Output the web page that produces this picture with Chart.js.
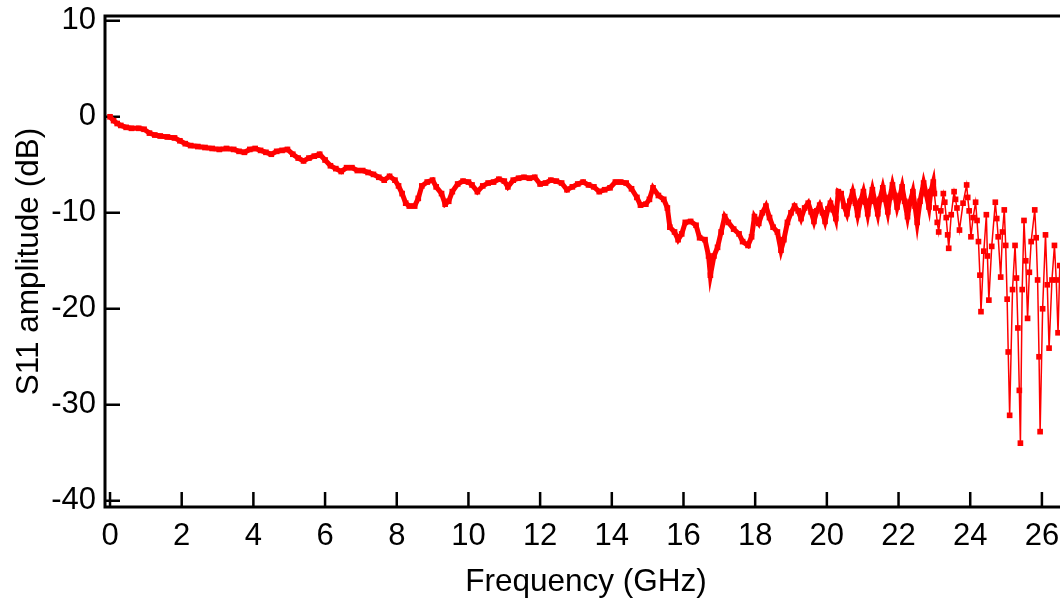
<!DOCTYPE html>
<html>
<head>
<meta charset="utf-8">
<script src="https://cdn.jsdelivr.net/npm/chart.js@4/dist/chart.umd.min.js"></script>
<style>
  html, body { margin: 0; padding: 0; background: #fff; overflow: hidden; }
  #wrap { width: 1080px; height: 601px; }
</style>
</head>
<body>
<div id="wrap"><canvas id="chart" width="1080" height="601"></canvas></div>
<script>
// S11 amplitude
const freqGHz = [
  0.00, 0.10, 0.20, 0.30, 0.45, 0.60, 0.80, 0.95, 1.10, 1.25, 1.40, 1.60, 1.80, 1.95,
  2.10, 2.25, 2.45, 2.65, 2.85, 3.05, 3.25, 3.45, 3.60, 3.75, 3.90, 4.05, 4.20, 4.35,
  4.50, 4.65, 4.80, 4.95, 5.10, 5.25, 5.40, 5.55, 5.70, 5.85, 6.00, 6.15, 6.30, 6.45,
  6.60, 6.75, 6.90, 7.05, 7.20, 7.35, 7.50, 7.65, 7.80, 7.95, 8.05, 8.15, 8.25, 8.35,
  8.50, 8.60, 8.70, 8.85, 9.00, 9.10, 9.25, 9.35, 9.45, 9.55, 9.70, 9.85, 10.00, 10.10,
  10.25, 10.40, 10.55, 10.70, 10.85, 11.00, 11.10, 11.25, 11.40, 11.55, 11.70, 11.85,
  12.00, 12.15, 12.30, 12.45, 12.60, 12.75, 12.90, 13.05, 13.20, 13.35, 13.50, 13.65,
  13.80, 13.95, 14.10, 14.25, 14.40, 14.55, 14.70, 14.80, 14.95, 15.05, 15.15, 15.30,
  15.45, 15.55, 15.62, 15.75, 15.85, 15.95, 16.05, 16.20, 16.35, 16.45, 16.60, 16.70,
  16.75, 16.85, 16.95, 17.05, 17.15, 17.25, 17.40, 17.55, 17.65, 17.80, 17.90, 17.98,
  18.10, 18.20, 18.30, 18.40, 18.50, 18.62, 18.72, 18.80, 18.90, 19.00, 19.10, 19.20,
  19.28, 19.38, 19.48, 19.56, 19.64, 19.72, 19.80, 19.88, 19.95, 20.03, 20.10, 20.18,
  20.25, 20.32, 20.40, 20.48, 20.56, 20.64, 20.72, 20.80, 20.86, 20.94, 21.02, 21.08,
  21.14, 21.20, 21.27, 21.34, 21.42, 21.48, 21.56, 21.63, 21.70, 21.76, 21.83, 21.90,
  21.96, 22.03, 22.10, 22.17, 22.25, 22.32, 22.40, 22.46, 22.52, 22.60, 22.70, 22.77,
  22.85, 22.90, 22.97, 23.00, 23.04, 23.08, 23.12, 23.18, 23.25, 23.29, 23.33, 23.37,
  23.40, 23.47, 23.55, 23.59, 23.63, 23.70, 23.80, 23.90, 23.93, 23.97, 24.02, 24.08,
  24.15, 24.19, 24.23, 24.27, 24.30, 24.38, 24.45, 24.48, 24.52, 24.60, 24.70, 24.74,
  24.78, 24.85, 24.90, 24.95, 24.99, 25.03, 25.06, 25.10, 25.18, 25.25, 25.29, 25.33,
  25.37, 25.40, 25.45, 25.50, 25.55, 25.60, 25.65, 25.70, 25.80, 25.84, 25.88, 25.92,
  25.95, 26.02, 26.10, 26.15, 26.20, 26.28, 26.35, 26.40, 26.45, 26.50
];
const s11dB = [
  0.0, -0.4, -0.7, -0.9, -1.1, -1.2, -1.2, -1.3, -1.7, -1.9, -2.0, -2.1, -2.2, -2.5,
  -2.8, -3.0, -3.1, -3.2, -3.3, -3.4, -3.3, -3.4, -3.6, -3.7, -3.4, -3.3, -3.5, -3.7,
  -3.9, -3.6, -3.5, -3.4, -3.9, -4.3, -4.6, -4.3, -4.1, -3.9, -4.5, -5.1, -5.4, -5.7,
  -5.3, -5.3, -5.6, -5.6, -5.8, -6.0, -6.3, -6.6, -6.2, -6.6, -7.2, -8.0, -9.0, -9.3,
  -9.3, -8.5, -7.2, -6.8, -6.6, -7.3, -8.0, -9.1, -8.8, -7.8, -7.0, -6.7, -6.8, -7.1,
  -7.8, -7.2, -6.9, -6.8, -6.5, -6.7, -7.3, -6.6, -6.4, -6.3, -6.4, -6.3,
  -7.0, -6.9, -6.6, -6.7, -6.9, -7.6, -7.3, -7.0, -6.8, -7.1, -7.3, -7.8,
  -7.6, -7.4, -6.8, -6.8, -6.9, -7.5, -8.4, -9.2, -9.1, -8.6, -7.4, -8.2,
  -8.6, -9.5, -11.5, -12.0, -12.8, -12.2, -11.0, -10.9, -11.3, -12.6, -12.8, -14.5,
  -16.5, -14.5, -13.6, -12.0, -10.4, -11.0, -11.7, -12.2, -13.0, -13.4, -12.5, -10.4,
  -11.1, -10.0, -9.3, -10.5, -11.5, -12.0, -13.9, -12.8, -11.0, -10.0, -9.3, -9.8,
  -10.6, -9.5, -9.0, -9.9, -10.9, -9.8, -9.2, -10.0, -10.9, -9.6, -9.0, -9.7,
  -10.6, -7.8, -8.0, -9.3, -10.1, -8.8, -7.8, -9.0, -10.2, -8.8, -7.8, -8.9,
  -10.1, -8.8, -7.6, -8.8, -10.1, -8.6, -7.4, -8.6, -9.9, -8.4, -7.1, -8.2,
  -9.4, -8.4, -7.3, -8.8, -10.4, -8.9, -7.8, -9.3, -11.0, -8.8, -6.9, -8.0,
  -9.4, -7.8, -6.8, -8.0, -9.5, -11.0, -12.0, -9.8, -8.0, -8.9, -10.5, -12.3,
  -13.7, -10.2, -7.8, -8.6, -9.5, -11.8, -9.0, -7.1, -8.4, -9.8, -12.5, -10.5,
  -8.9, -10.8, -13.0, -16.5, -20.3, -14.0, -10.2, -14.5, -19.1, -13.5, -8.9, -10.6,
  -12.5, -16.7, -12.0, -9.7, -13.4, -19.0, -24.5, -31.1, -18.0, -13.4, -16.8, -22.0,
  -28.5, -34.0, -18.0, -10.8, -15.0, -21.0, -16.2, -13.0, -9.7, -12.6, -17.0, -25.0,
  -32.8, -20.0, -12.3, -17.5, -24.1, -17.0, -13.4, -17.0, -22.5, -15.5
];
const xTickValues = [0, 2, 4, 6, 8, 10, 12, 14, 16, 18, 20, 22, 24, 26];
const yTickValues = [-40, -30, -20, -10, 0, 10];

const red = '#ff0000';
const font = "'Liberation Sans', Arial, sans-serif";

// frame plus inward-pointing tick marks
const framePlugin = {
  id: 'frame',
  beforeDatasetsDraw(chart) {
    const { ctx, chartArea: a, scales } = chart;
    ctx.save();
    ctx.strokeStyle = '#000';
    ctx.lineWidth = 3;
    ctx.strokeRect(a.left, a.top, a.right - a.left, a.bottom - a.top);
    ctx.lineWidth = 2.5;
    ctx.beginPath();
    xTickValues.forEach(v => {
      const px = scales.x.getPixelForValue(v);
      ctx.moveTo(px, a.bottom);
      ctx.lineTo(px, a.bottom - 15);
    });
    yTickValues.forEach(v => {
      const py = scales.y.getPixelForValue(v);
      ctx.moveTo(a.left, py);
      ctx.lineTo(a.left + 15, py);
    });
    ctx.stroke();
    ctx.restore();
  }
};

new Chart(document.getElementById('chart'), {
  type: 'line',
  data: {
    datasets: [{
      label: 'S11',
      data: freqGHz.map((f, i) => ({ x: f, y: s11dB[i] })),
      borderColor: red,
      backgroundColor: red,
      borderWidth: 1.5,
      pointStyle: 'rect',
      pointRadius: 4,
      pointBorderWidth: 0,
      pointBackgroundColor: red,
      tension: 0,
      segment: {
        borderWidth: ctx => ctx.p1.parsed.x <= 23.0 ? 5 : 1.5
      }
    }]
  },
  options: {
    responsive: false,
    animation: false,
    devicePixelRatio: 1,
    layout: { padding: { top: 16, right: 13, left: 0, bottom: 0 } },
    plugins: { legend: { display: false }, tooltip: { enabled: false } },
    scales: {
      x: {
        type: 'linear',
        min: -0.14,
        max: 26.7,
        afterBuildTicks: s => { s.ticks = xTickValues.map(v => ({ value: v })); },
        afterFit: s => { s.height = 94; s.paddingLeft = 0; s.paddingRight = 0; },
        grid: { display: false, drawTicks: false },
        border: { display: false },
        ticks: { color: '#000', font: { family: font, size: 31 }, padding: 11, maxRotation: 0, autoSkip: false },
        title: { display: true, text: 'Frequency (GHz)', color: '#000', font: { family: font, size: 31.5 }, padding: { top: 0, bottom: 0 } }
      },
      y: {
        min: -40.65,
        max: 10.5,
        afterBuildTicks: s => { s.ticks = yTickValues.map(v => ({ value: v })); },
        afterFit: s => { s.width = 105; s.paddingTop = 0; s.paddingBottom = 0; },
        grid: { display: false, drawTicks: false },
        border: { display: false },
        ticks: { color: '#000', font: { family: font, size: 31 }, padding: 9, autoSkip: false },
        title: { display: true, text: 'S11 amplitude (dB)', color: '#000', font: { family: font, size: 31.5 }, padding: { top: 10, bottom: 0 } }
      }
    }
  },
  plugins: [framePlugin]
});
</script>
</body>
</html>
